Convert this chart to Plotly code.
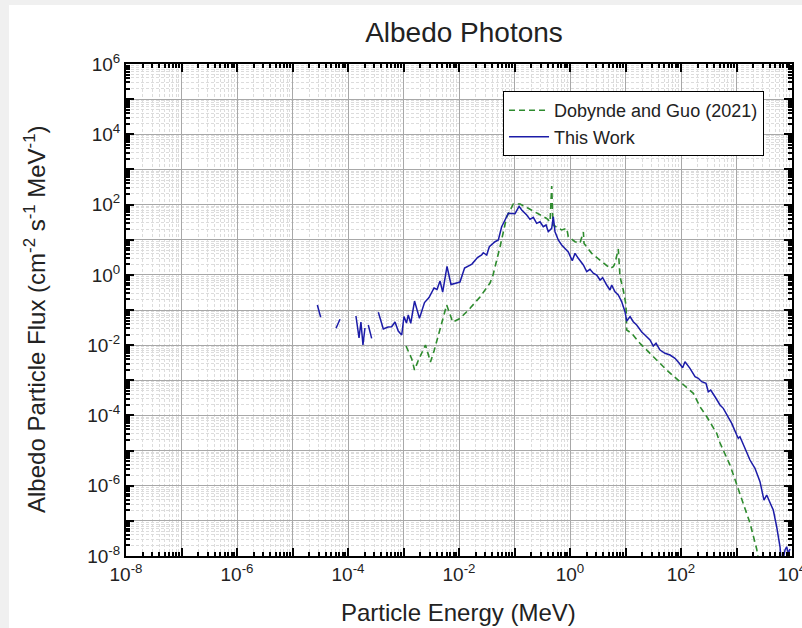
import plotly.graph_objects as go

# ---- data (energy in MeV, flux in cm^-2 s^-1 MeV^-1) ----
# "This Work" (blue); None marks gaps between drawn segments
work_energy = [
    2.80e-5, 3.22e-5, None,
    6.08e-5, 7.18e-5, None,
    1.39e-4, 1.58e-4, 1.71e-4, 1.86e-4, 2.02e-4, None,
    2.32e-4, 2.67e-4, None,
    3.52e-4, 4.33e-4, 5.26e-4, 6.12e-4, 7.03e-4, 8.05e-4, 9.29e-4, 1.02e-3, 1.13e-3, 1.22e-3,
    1.35e-3, 1.58e-3, 1.94e-3, 2.39e-3, 2.88e-3, 3.55e-3, 4.02e-3, 4.55e-3, 5.08e-3, 6.08e-3,
    7.18e-3, 1.04e-2, 1.26e-2, 1.71e-2, 2.15e-2, 2.56e-2, 2.74e-2, 3.16e-2, 3.52e-2, 4.46e-2,
    5.11e-2, 5.87e-2, 6.75e-2, 7.73e-2, 8.91e-2, 1.02e-1, 1.21e-1, 1.35e-1, 1.66e-1, 1.90e-1,
    2.18e-1, 2.51e-1, 2.88e-1, 3.30e-1, 3.70e-1, 4.06e-1, 4.68e-1, 5.00e-1, 5.37e-1, 6.15e-1,
    7.08e-1, 8.13e-1, 9.31e-1, 1.10, 1.23, 1.41, 1.74, 2.00, 2.29, 2.63,
    3.03, 3.48, 3.88, 4.58, 5.26, 5.64, 6.47, 7.41, 8.55, 9.80,
    10.5, 12.1, 13.8, 15.9, 19.6, 22.4, 27.6, 31.7, 35.5, 41.9,
    51.5, 63.4, 78.0, 93.1, 107, 118, 145, 179, 205, 236,
    282, 310, 343, 410, 505, 578, 665, 820, 1010, 1076,
    1156, 1422, 1750, 2153, 2650, 3126, 3500, 4190, 4600, 5300,
    6080, 6520, 7480, 8020, 8570, 9200,
]
work_flux = [
    1.39e-1, 6.19e-2, None,
    3.01e-2, 5.43e-2, None,
    6.75e-2, 1.60e-2, 4.55e-2, 1.01e-2, 3.07e-2, None,
    3.73e-2, 1.56e-2, None,
    8.60e-2, 2.88e-2, 3.28e-2, 3.34e-2, 4.55e-2, 2.52e-2, 1.94e-2, 6.52e-2, 4.26e-2, 7.19e-2,
    4.18e-2, 1.80e-1, 5.79e-2, 1.63e-1, 2.26e-1, 4.22e-1, 3.83e-1, 6.68e-1, 3.25e-1, 1.73,
    5.31e-1, 6.25e-1, 1.57, 2.03, 3.11, 3.67, 4.27, 3.67, 6.32, 8.77,
    9.80, 23.4, 36.4, 56.4, 56.0, 55.0, 89.1, 70.0, 50.5, 38.0,
    43.4, 29.3, 32.5, 23.4, 26.2, 16.9, 21.1, 45.1, 16.9, 9.80,
    7.06, 5.69, 4.47, 2.52, 4.10, 2.96, 1.91, 1.23, 1.44, 1.11,
    0.99, 0.713, 0.830, 0.514, 0.370, 0.514, 0.331, 0.267, 0.172, 8.93e-2,
    4.85e-2, 6.52e-2, 4.63e-2, 3.73e-2, 2.36e-2, 1.94e-2, 1.40e-2, 9.44e-3, 1.13e-2, 7.26e-3,
    5.85e-3, 5.24e-3, 4.22e-3, 3.04e-3, 2.28e-3, 3.37e-3, 2.19e-3, 1.26e-3, 1.14e-3, 9.10e-4,
    8.18e-4, 4.72e-4, 5.28e-4, 3.40e-4, 1.98e-4, 1.59e-4, 1.03e-4, 5.96e-5, 2.77e-5, 2.23e-5,
    2.48e-5, 1.16e-5, 5.38e-6, 3.12e-6, 1.30e-6, 3.91e-7, 5.43e-7, 2.82e-7, 2.03e-7, 6.79e-8,
    1.83e-8, 5.0e-9, 1.48e-8, 1.83e-8, 1.19e-8, 1.58e-8,
]

# "Dobynde and Guo (2021)" (green dashed)
dg_energy = [
    1.11e-3, 1.41e-3, 1.58e-3, 1.86e-3, 2.49e-3, 3.06e-3, 3.55e-3, 6.00e-3, 7.69e-3, 1.04e-2,
    1.58e-2, 2.39e-2, 3.62e-2, 4.10e-2, 5.48e-2, 7.23e-2, 9.51e-2, 1.26e-1, 1.77e-1, 2.69e-1,
    3.80e-1, 4.37e-1, 4.68e-1, 4.94e-1, 7.08e-1, 8.73e-1, 9.31e-1, 1.23, 1.51, 1.74,
    1.79, 2.46, 3.98, 5.26, 6.03, 6.47, 7.41, 7.96, 9.12, 10.2,
    10.5, 12.9, 18.2, 27.6, 39.0, 55.2, 95.9, 167, 220, 290,
    440, 505, 764, 1156, 1750, 2310, 2880,
]
dg_flux = [
    9.44e-3, 4.03e-3, 1.96e-3, 3.77e-3, 1.01e-2, 3.31e-3, 6.81e-3, 1.39e-1, 4.55e-2, 5.71e-2,
    1.12e-1, 2.34e-1, 5.86e-1, 0.99, 6.19, 44.3, 104, 104, 78.2, 53.8,
    40.1, 32.5, 337, 26.2, 18.9, 21.1, 12.2, 8.77, 8.05, 16.6,
    7.80, 4.10, 2.13, 1.53, 1.71, 2.13, 5.43, 0.885, 0.370, 0.139,
    2.69e-2, 2.17e-2, 1.13e-2, 5.85e-3, 3.37e-3, 1.96e-3, 9.10e-4, 4.26e-4, 1.77e-4, 9.31e-5,
    3.09e-5, 1.64e-5, 3.87e-6, 5.79e-7, 8.67e-8, 1.58e-8, 2.0e-9,
]

x_tick_vals = [1e-8, 1e-7, 1e-6, 1e-5, 1e-4, 1e-3, 1e-2, 1e-1, 1e0, 1e1, 1e2, 1e3, 1e4]
x_tick_text = ["10<sup>-8</sup>", "", "10<sup>-6</sup>", "", "10<sup>-4</sup>", "",
               "10<sup>-2</sup>", "", "10<sup>0</sup>", "", "10<sup>2</sup>", "", "10<sup>4</sup>"]
y_tick_vals = [1e-8, 1e-7, 1e-6, 1e-5, 1e-4, 1e-3, 1e-2, 1e-1, 1e0, 1e1, 1e2, 1e3, 1e4, 1e5, 1e6]
y_tick_text = ["10<sup>-8</sup>", "", "10<sup>-6</sup>", "", "10<sup>-4</sup>", "",
               "10<sup>-2</sup>", "", "10<sup>0</sup>", "", "10<sup>2</sup>", "",
               "10<sup>4</sup>", "", "10<sup>6</sup>"]

FONT = "Liberation Sans, Arial, sans-serif"

fig = go.Figure()
fig.add_trace(go.Scatter(
    x=dg_energy, y=dg_flux, mode="lines", name="Dobynde and Guo (2021)",
    line=dict(color="#2e8b2e", width=1.6, dash="6px,4px"),
))
fig.add_trace(go.Scatter(
    x=work_energy, y=work_flux, mode="lines", name="This Work",
    line=dict(color="#1c1ca8", width=1.5), connectgaps=False,
))

axis_common = dict(
    type="log", automargin=False,
    showline=True, linecolor="black", linewidth=2, mirror="ticks",
    ticks="inside", ticklen=8, tickwidth=1.5, tickcolor="black",
    showgrid=True, gridcolor="#a8a8a8", gridwidth=1,
    zeroline=False,
    tickfont=dict(family=FONT, size=19, color="#222"),
    tickmode="array",
    ticklabeloverflow="allow",
    minor=dict(dtick="D1", ticks="inside", ticklen=4, tickcolor="black",
               showgrid=True, gridcolor="#dcdcdc", griddash="3px,2px", gridwidth=1),
)

fig.update_xaxes(range=[-8, 4], tickvals=x_tick_vals, ticktext=x_tick_text, **axis_common)
fig.update_yaxes(range=[-8, 6], tickvals=y_tick_vals, ticktext=y_tick_text, **axis_common)

fig.update_layout(
    width=802, height=628,
    margin=dict(l=126, r=10, t=64, b=72, autoexpand=False),
    paper_bgcolor="#f0f0f0", plot_bgcolor="white",
    font=dict(family=FONT, color="#222"),
    title=dict(text="Albedo Photons", x=(464 - 126) / 666, xref="paper", xanchor="center",
               y=1 - 32 / 628, yref="container", yanchor="middle",
               font=dict(family=FONT, size=28, color="#222"), automargin=False),
    showlegend=True,
    legend=dict(x=0.958, y=0.945, xanchor="right", yanchor="top",
                bgcolor="white", bordercolor="black", borderwidth=1,
                font=dict(family=FONT, size=18, color="#222"),
                tracegroupgap=0, itemwidth=40),
    shapes=[dict(type="rect", xref="paper", yref="paper", layer="below",
                 x0=(9 - 126) / 666, x1=(830 - 126) / 666,
                 y0=(556 - 660) / 492, y1=(556 - 5) / 492,
                 fillcolor="white", line=dict(width=0))],
    annotations=[
        dict(text="Particle Energy (MeV)", xref="paper", yref="paper",
             x=(458 - 126) / 666, y=(556 - 612) / 492, xanchor="center", yanchor="middle",
             showarrow=False, font=dict(family=FONT, size=24, color="#222")),
        dict(text="Albedo Particle Flux (cm<sup>-2</sup> s<sup>-1</sup> MeV<sup>-1</sup>)",
             xref="paper", yref="paper", textangle=-90,
             x=(35 - 126) / 666, y=(556 - 319) / 492, xanchor="center", yanchor="middle",
             showarrow=False, font=dict(family=FONT, size=24, color="#222")),
    ],
)

fig.write_html("out.html")
